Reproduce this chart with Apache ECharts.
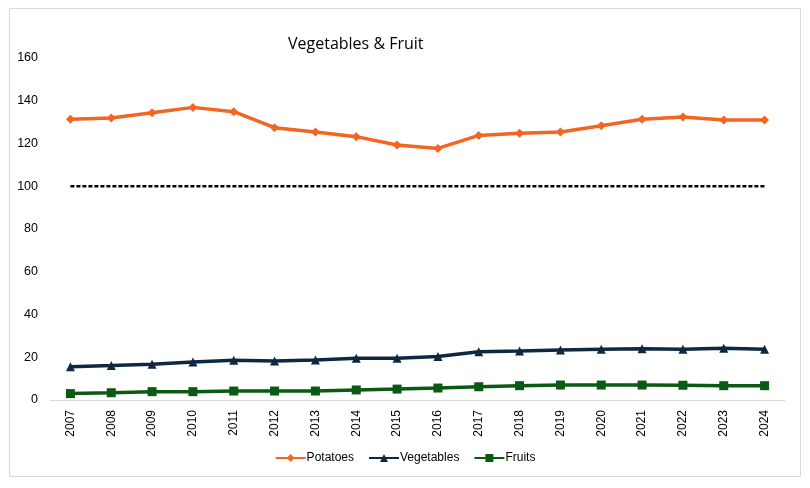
<!DOCTYPE html>
<html>
<head>
<meta charset="utf-8">
<script src="https://cdn.jsdelivr.net/npm/echarts@6/dist/echarts.min.js"></script>
<style>
  html, body { margin: 0; padding: 0; background: #fff; }
  #chart { width: 810px; height: 488px; }
</style>
</head>
<body>
<div id="chart"></div>
<script>
var years = ['2007', '2008', '2009', '2010', '2011', '2012', '2013', '2014', '2015',
	'2016', '2017', '2018', '2019', '2020', '2021', '2022', '2023', '2024'];
var potatoes = [131.3, 131.9, 134.4, 136.9, 134.9, 127.4, 125.4, 123.2, 119.3,
	117.7, 123.8, 124.8, 125.4, 128.3, 131.3, 132.4, 131.0, 131.0];
var vegetables = [15.6, 16.1, 16.7, 17.8, 18.6, 18.2, 18.7, 19.5, 19.5,
	20.3, 22.6, 22.9, 23.4, 23.7, 24.0, 23.7, 24.2, 23.7];
var fruits = [3.0, 3.4, 3.9, 3.9, 4.2, 4.2, 4.2, 4.7, 5.1,
	5.6, 6.2, 6.7, 7.0, 7.0, 7.0, 6.9, 6.7, 6.7];
var reference = [100, 100, 100, 100, 100, 100, 100, 100, 100,
	100, 100, 100, 100, 100, 100, 100, 100, 100];

var chart = echarts.init(document.getElementById('chart'));
var option = {
	animation: false,
	textStyle: { fontFamily: 'Liberation Sans' },
	graphic: [{
		type: 'rect',
		shape: { x: 9.5, y: 8.5, width: 791, height: 468 },
		style: { fill: 'none', stroke: '#d9d9d9', lineWidth: 1 },
		silent: true
	}],
	title: {
		text: 'Vegetables & Fruit',
		left: 283,
		top: 31,
		textStyle: { fontFamily: 'Open Sans', fontSize: 16, fontWeight: 'normal', color: '#000' }
	},
	legend: {
		bottom: 19,
		left: 'center',
		itemWidth: 30,
		itemHeight: 10,
		itemGap: 14,
		textStyle: { fontSize: 12, color: '#000', padding: [0, 0, 0, -4] },
		data: ['Potatoes', 'Vegetables', 'Fruits']
	},
	grid: {
		left: 50,
		right: 25,
		top: 58,
		bottom: 88
	},
	xAxis: {
		type: 'category',
		data: years,
		boundaryGap: true,
		axisLine: { lineStyle: { color: '#d9d9d9', width: 1 } },
		axisTick: { show: false },
		axisLabel: { rotate: 90, color: '#000', fontSize: 12, margin: 10 }
	},
	yAxis: {
		type: 'value',
		min: 0,
		max: 160,
		interval: 20,
		splitLine: { show: false },
		axisLine: { show: false },
		axisTick: { show: false },
		axisLabel: { color: '#000', fontSize: 12.5, margin: 12 }
	},
	series: [{
		name: 'Potatoes',
		type: 'line',
		data: potatoes,
		symbol: 'diamond',
		symbolSize: 9,
		itemStyle: { color: '#f26522' },
		lineStyle: { width: 3.5, color: '#f26522' }
	},
	{
		name: 'Vegetables',
		type: 'line',
		data: vegetables,
		symbol: 'triangle',
		symbolSize: 9,
		itemStyle: { color: '#0e2841' },
		lineStyle: { width: 3.5, color: '#0e2841' }
	},
	{
		name: 'Fruits',
		type: 'line',
		data: fruits,
		symbol: 'rect',
		symbolSize: 9,
		itemStyle: { color: '#0b5a14' },
		lineStyle: { width: 3.5, color: '#0b5a14' }
	},
	{
		name: 'Reference',
		type: 'line',
		data: reference,
		symbol: 'none',
		silent: true,
		lineStyle: { width: 2.5, color: '#000', type: [4, 2] }
	}]
};
chart.setOption(option);
</script>
</body>
</html>
